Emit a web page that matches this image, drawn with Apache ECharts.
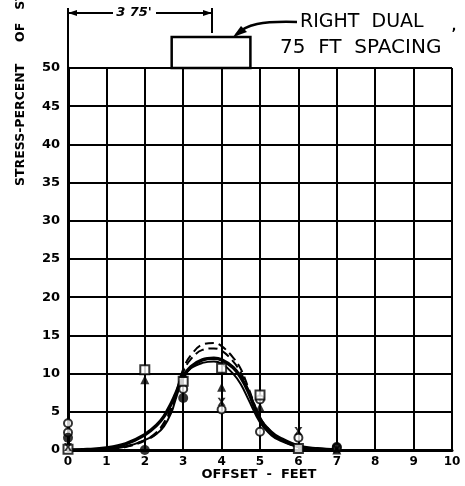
<!DOCTYPE html>
<html>
<head>
<meta charset="utf-8">
<script src="https://cdn.jsdelivr.net/npm/echarts@6/dist/echarts.min.js"></script>
<style>
  html, body { margin: 0; padding: 0; background: #fff; }
  #chart { width: 465px; height: 486px; }
</style>
</head>
<body>
<div id="chart"></div>
<script>
// tick labels
const xTicks = ['0', '1', '2', '3', '4', '5', '6', '7', '8', '9', '10'];
const yTicks = ['0', '5', '10', '15', '20', '25', '30', '35', '40', '45', '50'];

// fitted curves (offset ft, stress %)
const curveX = [0, 0.5, 1, 1.5, 2, 2.3, 2.5, 2.7, 2.8, 3, 3.2, 3.5, 3.8, 4, 4.3, 4.5, 4.7, 5, 5.3, 5.5, 6, 6.5, 7];
const solidA = [0, 0.05, 0.25, 0.8, 2, 3.2, 4.4, 6.2, 7.3, 9.6, 10.9, 11.8, 12, 11.8, 10.8, 9.5, 7.6, 4, 2.3, 1.6, 0.5, 0.15, 0];
const solidB = [0, 0, 0.1, 0.45, 1.3, 2.1, 3.1, 5, 6.6, 9.4, 10.7, 11.4, 11.6, 11.3, 10, 8.6, 6.6, 3.6, 1.9, 1.3, 0.4, 0.1, 0];
const dashC = [0, 0, 0.1, 0.45, 1.3, 2.3, 3.6, 5.6, 7.2, 10.6, 12.4, 13.8, 14, 13.6, 12.1, 10.6, 8.1, 4.3, 2.3, 1.5, 0.45, 0.1, 0];
const dashD = [0, 0, 0.1, 0.4, 1.2, 2.1, 3.3, 5.3, 6.9, 10.2, 11.9, 13.1, 13.3, 13, 11.6, 10.1, 7.8, 4.1, 2.2, 1.4, 0.4, 0.1, 0];

// measured points
const openCircle = [[0, 3.5], [0, 2.3], [3, 8], [4, 5.3], [5, 6.6], [5, 2.4], [6, 1.6], [7, 0.3]];
const openSquare = [[0, 0.1], [2, 10.5], [3, 9], [4, 10.7], [5, 7.2], [6, 0.2]];
const triangle = [[2, 9.2], [3, 10], [4, 8.2], [5, 5.6], [7, 0]];
const cross = [[0, 0.4], [4, 6.3], [6, 2.5], [7, 0.1]];
const filledCircle = [[0, 1.6], [2, 0], [3, 6.8], [7, 0.4]];

const FONT = 'DejaVu Sans';
const xSym = 'path://M0,0L3,0L5,4L7,0L10,0L6.5,5L10,10L7,10L5,6L3,10L0,10L3.5,5Z';

function pair(xs, ys) {
  return xs.map((x, i) => [x, ys[i]]);
}

function curve(data, width, dashed) {
  return {
    type: 'line', data: data, smooth: 0.4, symbol: 'none', z: 3,
    lineStyle: { color: '#000', width: width, type: dashed ? [9, 5] : 'solid' }
  };
}

function points(data, symbol, filled, size) {
  return {
    type: 'scatter', data: data, symbol: symbol, symbolSize: size, z: 5,
    itemStyle: { color: filled ? '#000' : '#fff', borderColor: '#000', borderWidth: filled ? 0 : 2 }
  };
}

const chart = echarts.init(document.getElementById('chart'));

chart.setOption({
  animation: false,
  backgroundColor: '#fff',
  grid: { left: 68, right: 13, top: 68, bottom: 36 },
  xAxis: {
    type: 'value', min: 0, max: 10, interval: 1,
    axisLine: { lineStyle: { color: '#000', width: 3 } },
    axisTick: { show: false },
    splitLine: { show: true, lineStyle: { color: '#000', width: 2 } },
    axisLabel: {
      color: '#000', fontFamily: FONT, fontWeight: 'bold', fontSize: 12, margin: 6,
      formatter: v => xTicks[Math.round(v)]
    }
  },
  yAxis: {
    type: 'value', min: 0, max: 50, interval: 5,
    axisLine: { show: true, lineStyle: { color: '#000', width: 3 } },
    axisTick: { show: false },
    splitLine: { show: true, lineStyle: { color: '#000', width: 2 } },
    axisLabel: {
      color: '#000', fontFamily: FONT, fontWeight: 'bold', fontSize: 13, margin: 8,
      formatter: v => yTicks[Math.round(v / 5)]
    }
  },
  series: [
    curve(pair(curveX, solidA), 3.5, false),
    curve(pair(curveX, solidB), 2, false),
    curve(pair(curveX, dashC), 2, true),
    curve(pair(curveX, dashD), 2, true),
    points(openCircle, 'circle', false, 8),
    points(openSquare, 'rect', false, 9),
    points(triangle, 'triangle', true, 9),
    points(cross, xSym, true, 8),
    points(filledCircle, 'circle', true, 10)
  ]
});

// annotations above the plot, placed from the axes
const p0 = chart.convertToPixel({ gridIndex: 0 }, [0, 50]);
const pDim = chart.convertToPixel({ gridIndex: 0 }, [3.75, 50]);
const pBoxL = chart.convertToPixel({ gridIndex: 0 }, [2.7, 50]);
const pBoxR = chart.convertToPixel({ gridIndex: 0 }, [4.75, 50]);

chart.setOption({
  graphic: [
    { type: 'line', shape: { x1: p0[0], y1: 8, x2: p0[0], y2: p0[1] }, style: { stroke: '#000', lineWidth: 2 } },
    { type: 'line', shape: { x1: pDim[0], y1: 8, x2: pDim[0], y2: 33 }, style: { stroke: '#000', lineWidth: 2 } },
    { type: 'line', shape: { x1: p0[0], y1: 13, x2: p0[0] + 45, y2: 13 }, style: { stroke: '#000', lineWidth: 2 } },
    { type: 'line', shape: { x1: p0[0] + 88, y1: 13, x2: pDim[0], y2: 13 }, style: { stroke: '#000', lineWidth: 2 } },
    { type: 'polygon', shape: { points: [[p0[0], 13], [p0[0] + 9, 10], [p0[0] + 9, 16]] }, style: { fill: '#000' } },
    { type: 'polygon', shape: { points: [[pDim[0], 13], [pDim[0] - 9, 10], [pDim[0] - 9, 16]] }, style: { fill: '#000' } },
    {
      type: 'text', x: 134, y: 13,
      style: { text: "3 75'", fill: '#000', font: 'italic bold 13px ' + FONT, align: 'center', verticalAlign: 'middle' }
    },
    {
      type: 'rect', shape: { x: pBoxL[0], y: 37, width: pBoxR[0] - pBoxL[0], height: p0[1] - 37 },
      style: { fill: '#fff', stroke: '#000', lineWidth: 2.5 }
    },
    {
      type: 'bezierCurve', shape: { x1: 297, y1: 22, x2: 236, y2: 35, cpx1: 262, cpy1: 21, cpx2: 246, cpy2: 24 },
      style: { stroke: '#000', lineWidth: 2.5, fill: null }
    },
    { type: 'polygon', shape: { points: [[233, 37], [241, 26], [247, 32]] }, style: { fill: '#000' } },
    {
      type: 'text', x: 300, y: 22,
      style: { text: 'RIGHT  DUAL', fill: '#000', font: '19px ' + FONT, align: 'left', verticalAlign: 'middle' }
    },
    {
      type: 'text', x: 454, y: 27,
      style: { text: ',', fill: '#000', font: 'bold 12px ' + FONT, align: 'center', verticalAlign: 'middle' }
    },
    {
      type: 'text', x: 280, y: 48,
      style: { text: '75  FT  SPACING', fill: '#000', font: '20px ' + FONT, align: 'left', verticalAlign: 'middle' }
    },
    {
      type: 'text', x: 259, y: 475,
      style: { text: 'OFFSET  -  FEET', fill: '#000', font: 'bold 13px ' + FONT, align: 'center', verticalAlign: 'middle' }
    },
    {
      type: 'text', x: 21, y: 186, rotation: Math.PI / 2,
      style: { text: 'STRESS-PERCENT     OF   STATIC LOAD', fill: '#000', font: 'bold 12.5px ' + FONT, align: 'left', verticalAlign: 'middle' }
    }
  ]
});
</script>
</body>
</html>
